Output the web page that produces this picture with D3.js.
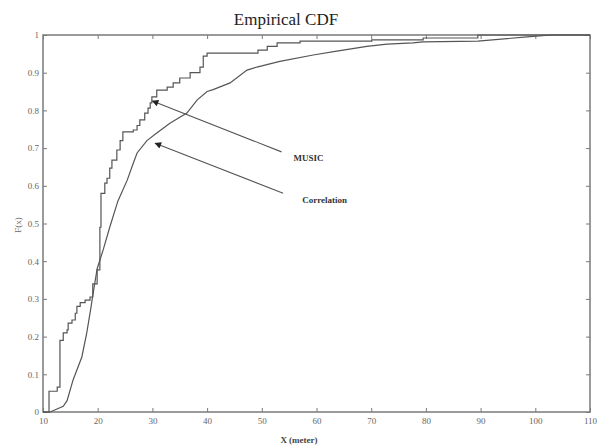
<!DOCTYPE html>
<html>
<head>
<meta charset="utf-8">
<script src="https://cdn.jsdelivr.net/npm/d3@7"></script>
<style>
  body { margin: 0; background: #fff; }
  svg { display: block; }
</style>
</head>
<body>
<svg id="chart" width="597" height="445"></svg>
<script>
// values
let musicX = [10, 11.1, 12.6, 13.1, 13.7, 14.4, 14.6, 15.3, 15.9, 16.2, 16.8, 17.7, 18.6, 19.1, 19.9, 20.4, 20.6,
    21.3, 21.7, 22.2, 22.6, 23.5, 24.1, 24.6, 26.5, 27.2, 27.7, 28.6, 29.2, 29.6, 29.9, 30.8, 32.7, 33.8, 35.0,
    36.9, 38.7, 39.3, 40.0, 49.3, 51.0, 52.8, 57, 70.1, 79.5, 89.5, 110];
let musicF = [0, 0.055, 0.066, 0.19, 0.21, 0.218, 0.236, 0.244, 0.262, 0.28, 0.29, 0.297, 0.305, 0.34, 0.377, 0.49, 0.58,
    0.607, 0.62, 0.647, 0.668, 0.695, 0.72, 0.743, 0.748, 0.76, 0.775, 0.793, 0.806, 0.82, 0.836, 0.854, 0.862, 0.873, 0.886,
    0.9, 0.915, 0.944, 0.952, 0.96, 0.97, 0.979, 0.984, 0.987, 0.992, 1, 1];

let corrX = [10, 11.3, 13.7, 14.4, 15.5, 17.1, 18.0, 18.8, 19.0, 19.9, 21.0, 22.2, 23.7, 25.4, 26.5, 27.2, 29.0, 30.8,
    33.2, 36.3, 38.2, 40.0, 41.1, 44.2, 47.3, 49.1, 53.3, 59.4, 63.7, 69.2, 72.9, 77.6, 79.5, 89.5, 98.5, 103, 110];
let corrF = [0, 0, 0.015, 0.03, 0.085, 0.146, 0.21, 0.28, 0.30, 0.38, 0.43, 0.49, 0.56, 0.615, 0.66, 0.687, 0.72, 0.74,
    0.766, 0.793, 0.828, 0.85, 0.855, 0.873, 0.907, 0.915, 0.93, 0.947, 0.957, 0.97, 0.976, 0.979, 0.982, 0.984, 0.995, 1, 1];

let xTicks = [10, 20, 30, 40, 50, 60, 70, 80, 90, 100, 110];
let yTicks = [0, 0.1, 0.2, 0.3, 0.4, 0.5, 0.6, 0.7, 0.8, 0.9, 1];

// arrows: label position, arrow tail and arrow head, all in data units
let notes = [
    {label: "MUSIC", tx: 55.8, ty: 0.665, x1: 53.6, y1: 0.69, x2: 30.0, y2: 0.825},
    {label: "Correlation", tx: 57.4, ty: 0.555, x1: 53.9, y1: 0.58, x2: 30.5, y2: 0.713}
];

let svg = d3.select("#chart");
let margin = {top: 35, right: 7, bottom: 33, left: 43};
let width = 597 - margin.left - margin.right;
let height = 445 - margin.top - margin.bottom;
let g = svg.append("g").attr("transform", "translate(" + margin.left + "," + margin.top + ")");

let x = d3.scaleLinear().domain([10, 110]).range([0, width]);
let y = d3.scaleLinear().domain([0, 1]).range([height, 0]);

let axisColor = "#7a7a7a";
let serif = "Liberation Serif, serif";

// frame
g.append("rect").attr("width", width).attr("height", height)
    .attr("fill", "none").attr("stroke", axisColor).attr("stroke-width", 1.5);

// bottom/left axes with labels, top/right mirrored ticks, all inward
let axBottom = g.append("g").attr("transform", "translate(0," + height + ")")
    .call(d3.axisBottom(x).tickValues(xTicks).tickSize(-4).tickPadding(6).tickFormat(d3.format("d")));
let axLeft = g.append("g")
    .call(d3.axisLeft(y).tickValues(yTicks).tickSize(-4).tickPadding(4).tickFormat(d => d === 0 || d === 1 ? d : d3.format(".1f")(d)));
let axTop = g.append("g")
    .call(d3.axisTop(x).tickValues(xTicks).tickSize(-4).tickFormat(""));
let axRight = g.append("g").attr("transform", "translate(" + width + ",0)")
    .call(d3.axisRight(y).tickValues(yTicks).tickSize(-4).tickFormat(""));

[axBottom, axLeft, axTop, axRight].forEach(a => {
    a.select(".domain").remove();
    a.selectAll("line").attr("stroke", axisColor);
    a.selectAll("text").attr("font-family", serif).attr("font-size", 9).attr("fill", "#666");
});

// curves
let musicData = musicX.map((v, i) => [v, musicF[i]]);
let corrData = corrX.map((v, i) => [v, corrF[i]]);

g.append("path").datum(musicData)
    .attr("fill", "none").attr("stroke", "#555").attr("stroke-width", 1.2)
    .attr("d", d3.line().x(d => x(d[0])).y(d => y(d[1])).curve(d3.curveStepAfter));

g.append("path").datum(corrData)
    .attr("fill", "none").attr("stroke", "#555").attr("stroke-width", 1.2)
    .attr("d", d3.line().x(d => x(d[0])).y(d => y(d[1])));

// arrows
svg.append("defs").append("marker")
    .attr("id", "head").attr("viewBox", "0 0 10 10").attr("refX", 9).attr("refY", 5)
    .attr("markerWidth", 8).attr("markerHeight", 6).attr("orient", "auto")
    .append("path").attr("d", "M0,0L10,5L0,10z").attr("fill", "#222");

notes.forEach(n => {
    g.append("line")
        .attr("x1", x(n.x1)).attr("y1", y(n.y1))
        .attr("x2", x(n.x2)).attr("y2", y(n.y2))
        .attr("stroke", "#555").attr("stroke-width", 1.1)
        .attr("marker-end", "url(#head)");
    g.append("text")
        .attr("x", x(n.tx)).attr("y", y(n.ty))
        .attr("font-family", serif).attr("font-size", 9).attr("font-weight", "bold")
        .attr("fill", "#333")
        .text(n.label);
});

// title and axis labels
svg.append("text").attr("x", 286).attr("y", 25).attr("text-anchor", "middle")
    .attr("font-family", serif).attr("font-size", 17).attr("fill", "#222")
    .text("Empirical CDF");

svg.append("text").attr("x", 299).attr("y", 443).attr("text-anchor", "middle")
    .attr("font-family", serif).attr("font-size", 9).attr("font-weight", "bold").attr("fill", "#444")
    .text("X (meter)");

svg.append("text").attr("transform", "translate(21,225) rotate(-90)").attr("text-anchor", "middle")
    .attr("font-family", serif).attr("font-size", 9).attr("fill", "#666")
    .text("F(x)");
</script>
</body>
</html>
